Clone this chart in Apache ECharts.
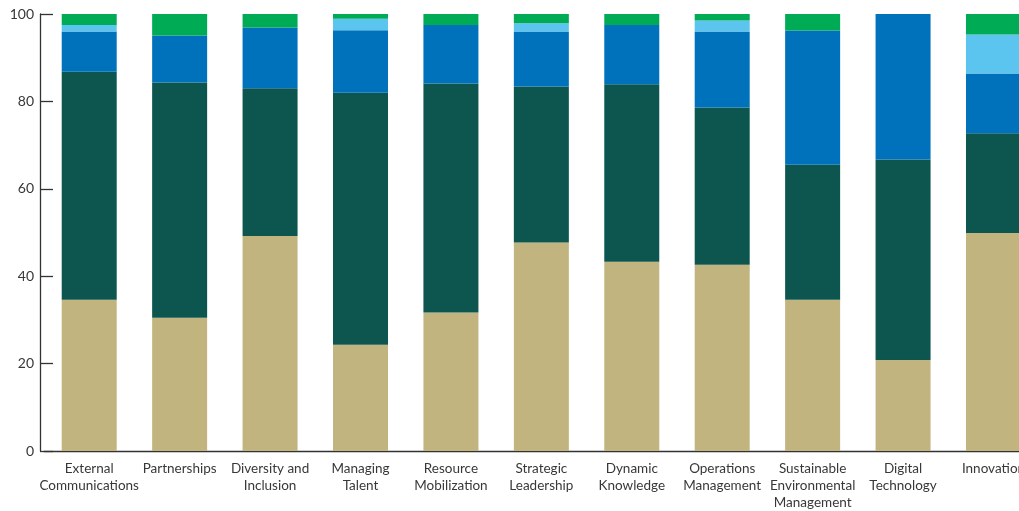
<!DOCTYPE html>
<html>
<head>
<meta charset="utf-8">
<script src="https://cdn.jsdelivr.net/npm/echarts@6/dist/echarts.min.js"></script>
<style>html,body{margin:0;padding:0;background:#fff;overflow:hidden;width:1019px;height:511px;}#c{width:1039px;height:511px;}</style>
</head>
<body>
<div id="c"></div>
<script>
const categories = ["External\nCommunications","Partnerships","Diversity and\nInclusion","Managing\nTalent","Resource\nMobilization","Strategic\nLeadership","Dynamic\nKnowledge","Operations\nManagement","Sustainable\nEnvironmental\nManagement","Digital\nTechnology","Innovation"];
const tanValues       = [34.6,30.5,49.2,24.3,31.7,47.7,43.3,42.6,34.6,20.8,49.9];
const darkGreenValues = [52.2,53.8,33.8,57.7,52.4,35.7,40.6,36.0,30.9,45.9,22.8];
const blueValues      = [9.2,10.8,13.9,14.3,13.4,12.6,13.6,17.4,30.7,33.3,13.7];
const lightBlueValues = [1.5,0,0,2.6,0,1.9,0,2.5,0,0,8.9];
const greenValues     = [2.5,4.9,3.1,1.1,2.5,2.1,2.5,1.5,3.8,0,4.7];
const yTicks = [0,20,40,60,80,100];

const colors = ['#c2b47e','#0c564f','#0072bc','#5bc5f0','#00ab55'];
const seriesData = [tanValues, darkGreenValues, blueValues, lightBlueValues, greenValues];
const font = 'Lato, "Open Sans", sans-serif';

const chart = echarts.init(document.getElementById('c'), null, {renderer:'canvas'});
chart.setOption({
  animation:false,
  grid:{left:44, top:14, bottom:57, right:0.3, containLabel:false},
  xAxis:{
    type:'category', data:categories, boundaryGap:true,
    axisLine:{show:true, lineStyle:{color:'#333', width:1.3}},
    axisTick:{show:false},
    axisLabel:{interval:0, color:'#383838', fontSize:13.5, fontFamily:font, lineHeight:17, margin:9}
  },
  yAxis:{
    type:'value', min:yTicks[0], max:yTicks[yTicks.length-1], interval:20, offset:4,
    axisLine:{show:true, lineStyle:{color:'#333', width:1.3}},
    axisTick:{show:true, inside:true, length:13, lineStyle:{color:'#333', width:1.3}},
    splitLine:{show:false},
    axisLabel:{color:'#383838', fontSize:14, fontFamily:font, margin:6}
  },
  series: seriesData.map((d,i)=>({
    type:'bar', stack:'total', data:d, barWidth:55,
    itemStyle:{color:colors[i]}
  }))
});
</script>
</body>
</html>
